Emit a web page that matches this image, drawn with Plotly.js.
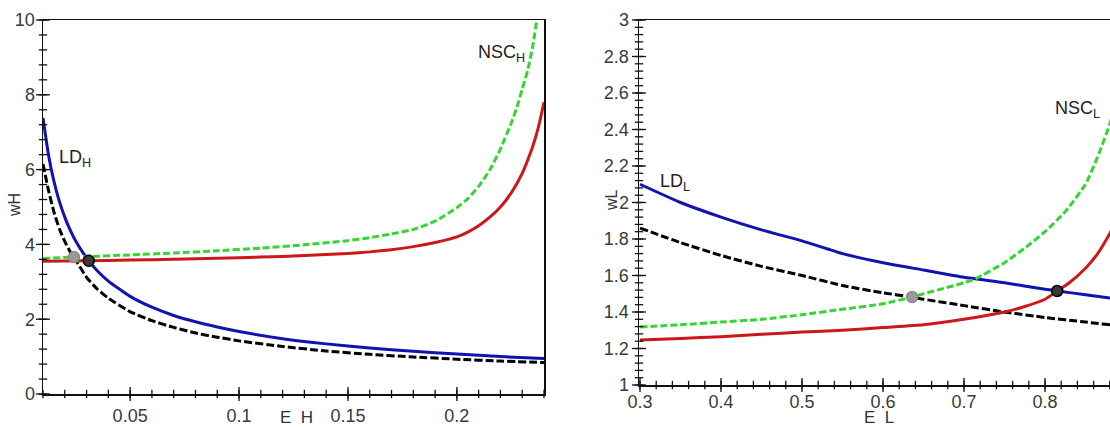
<!DOCTYPE html>
<html>
<head>
<meta charset="utf-8">
<script src="https://cdn.plot.ly/plotly-3.0.1.min.js"></script>
<style>
html,body{margin:0;padding:0;overflow:hidden;background:#fff;}
#chart{width:1180px;height:427px;}
</style>
</head>
<body>
<div id="chart"></div>
<script>
// ---- Left panel (high type) ----
const eH = [0.01, 0.0125, 0.015, 0.0175, 0.02, 0.0225, 0.025, 0.03, 0.035, 0.04, 0.05, 0.06, 0.07, 0.08, 0.09, 0.1, 0.12, 0.14, 0.16, 0.18, 0.2, 0.22, 0.24];
const ldH_blue = [7.38, 6.40, 5.69, 5.15, 4.73, 4.38, 4.09, 3.64, 3.29, 3.02, 2.61, 2.32, 2.10, 1.93, 1.79, 1.67, 1.48, 1.34, 1.23, 1.14, 1.07, 1.00, 0.95];
const ldH_black = [6.15, 5.45, 4.87, 4.42, 4.08, 3.80, 3.58, 3.12, 2.80, 2.56, 2.20, 1.96, 1.78, 1.63, 1.52, 1.42, 1.27, 1.15, 1.06, 0.99, 0.93, 0.88, 0.84];

const eH_nsc_red = [0.01, 0.03, 0.05, 0.07, 0.09, 0.11, 0.13, 0.15, 0.16, 0.17, 0.18, 0.19, 0.2, 0.205, 0.21, 0.215, 0.22, 0.225, 0.23, 0.2325, 0.235, 0.2375, 0.24];
const nscH_red = [3.55, 3.56, 3.58, 3.60, 3.63, 3.66, 3.70, 3.76, 3.80, 3.86, 3.94, 4.05, 4.20, 4.33, 4.50, 4.72, 5.00, 5.38, 5.90, 6.25, 6.65, 7.15, 7.80];
const eH_nsc_green = [0.01, 0.0242, 0.03, 0.05, 0.07, 0.09, 0.11, 0.13, 0.15, 0.16, 0.17, 0.18, 0.19, 0.2, 0.205, 0.21, 0.215, 0.22, 0.225, 0.2275, 0.23, 0.2325, 0.235, 0.2367];
const nscH_green = [3.62, 3.66, 3.67, 3.72, 3.77, 3.83, 3.90, 3.99, 4.10, 4.18, 4.28, 4.40, 4.62, 4.98, 5.22, 5.55, 5.98, 6.55, 7.25, 7.65, 8.15, 8.65, 9.35, 10.0];

const eqH_gray = {x: [0.0242], y: [3.66]};
const eqH_black = {x: [0.031], y: [3.56]};

// ---- Right panel (low type) ----
const eL = [0.3, 0.35, 0.4, 0.45, 0.5, 0.55, 0.6, 0.65, 0.7, 0.75, 0.8, 0.815, 0.85, 0.9, 0.95];
const ldL_blue = [2.10, 2.00, 1.92, 1.85, 1.79, 1.72, 1.67, 1.63, 1.59, 1.56, 1.525, 1.515, 1.495, 1.465, 1.44];
const eL_black = [0.3, 0.35, 0.4, 0.45, 0.5, 0.55, 0.6, 0.636, 0.65, 0.7, 0.75, 0.8, 0.85, 0.9, 0.95];
const ldL_black = [1.86, 1.78, 1.71, 1.65, 1.60, 1.545, 1.505, 1.482, 1.47, 1.435, 1.40, 1.37, 1.345, 1.32, 1.30];

const eL_green = [0.3, 0.35, 0.4, 0.45, 0.5, 0.55, 0.6, 0.636, 0.65, 0.7, 0.716, 0.75, 0.775, 0.8, 0.825, 0.85, 0.865, 0.88, 0.89, 0.9, 0.91];
const nscL_green = [1.318, 1.33, 1.345, 1.36, 1.385, 1.415, 1.445, 1.482, 1.50, 1.56, 1.586, 1.67, 1.75, 1.84, 1.95, 2.10, 2.25, 2.43, 2.58, 2.75, 3.0];
const eL_red = [0.3, 0.35, 0.4, 0.45, 0.5, 0.55, 0.6, 0.65, 0.7, 0.75, 0.775, 0.8, 0.815, 0.83, 0.85, 0.865, 0.88, 0.9, 0.92];
const nscL_red = [1.247, 1.255, 1.265, 1.278, 1.29, 1.30, 1.315, 1.33, 1.36, 1.40, 1.43, 1.47, 1.515, 1.56, 1.64, 1.72, 1.83, 2.00, 2.20];

const eqL_gray = {x: [0.636], y: [1.482]};
const eqL_black = {x: [0.815], y: [1.515]};

// ---- axis ranges and tick spacing ----
const rxL = [0.01, 0.24], ryL = [0, 10], rxR = [0.29877, 0.9543], ryR = [1, 3];
const tickStepH = {x: 0.05, xm: 0.01, y: 2, ym: 0.4};
const tickStepL = {x: 0.1, xm: 0.02, y: 0.2, ym: 0.04};

function steps(range, step) {
  const out = [];
  const k0 = Math.ceil(range[0] / step - 1e-9), k1 = Math.floor(range[1] / step + 1e-9);
  for (let k = k0; k <= k1; k++) out.push(+(k * step).toFixed(6));
  return out;
}

// ---- styling ----
const W = 1180, H = 427;
const BLUE = 'rgb(18,18,178)', RED = 'rgb(204,24,24)', GREEN = 'rgb(52,214,52)', BLACK = '#000';
const LW = 3;

function line(x, y, color, dash, xa, ya) {
  return {x: x, y: y, type: 'scatter', mode: 'lines', xaxis: xa, yaxis: ya,
    line: {color: color, width: LW, dash: dash || 'solid', shape: 'spline', smoothing: 0.5},
    hoverinfo: 'skip', showlegend: false};
}
function dot(p, fill, edge, xa, ya) {
  return {x: p.x, y: p.y, type: 'scatter', mode: 'markers', xaxis: xa, yaxis: ya,
    marker: {size: 11, color: fill, line: {color: edge, width: 1.5}},
    hoverinfo: 'skip', showlegend: false};
}
// tick marks drawn as line markers sitting on the axis lines
function tickMarks(vals, fixed, isX, size, xa, ya) {
  const other = vals.map(() => fixed);
  return {x: isX ? vals : other, y: isX ? other : vals, type: 'scatter', mode: 'markers',
    xaxis: xa, yaxis: ya, cliponaxis: false,
    marker: {symbol: isX ? 'line-ns-open' : 'line-ew-open', size: size, color: '#111',
      line: {color: '#111', width: 1.3}},
    hoverinfo: 'skip', showlegend: false};
}

const traces = [
  line(eH, ldH_blue, BLUE, 'solid', 'x', 'y'),
  line(eH, ldH_black, BLACK, '8px,3px', 'x', 'y'),
  line(eH_nsc_red, nscH_red, RED, 'solid', 'x', 'y'),
  line(eH_nsc_green, nscH_green, GREEN, '7px,3px', 'x', 'y'),
  dot(eqH_gray, '#9a9a9a', '#8a8a8a', 'x', 'y'),
  dot(eqH_black, '#3a3a3a', '#000', 'x', 'y'),
  line(eL, ldL_blue, BLUE, 'solid', 'x2', 'y2'),
  line(eL_black, ldL_black, BLACK, '8px,3px', 'x2', 'y2'),
  line(eL_red, nscL_red, RED, 'solid', 'x2', 'y2'),
  line(eL_green, nscL_green, GREEN, '7px,3px', 'x2', 'y2'),
  dot(eqL_gray, '#9a9a9a', '#8a8a8a', 'x2', 'y2'),
  dot(eqL_black, '#3a3a3a', '#000', 'x2', 'y2'),
  // ticks, left panel
  tickMarks(steps(rxL, tickStepH.x), ryL[0], true, 10, 'x', 'y'),
  tickMarks(steps(rxL, tickStepH.xm), ryL[0], true, 6, 'x', 'y'),
  tickMarks(steps(ryL, tickStepH.y), rxL[0], false, 10, 'x', 'y'),
  tickMarks(steps(ryL, tickStepH.ym), rxL[0], false, 6, 'x', 'y'),
  // ticks, right panel
  tickMarks(steps(rxR, tickStepL.x), ryR[0], true, 10, 'x2', 'y2'),
  tickMarks(steps(rxR, tickStepL.xm), ryR[0], true, 6, 'x2', 'y2'),
  tickMarks(steps(ryR, tickStepL.y), rxR[0], false, 10, 'x2', 'y2'),
  tickMarks(steps(ryR, tickStepL.ym), rxR[0], false, 6, 'x2', 'y2')
];

const tickFont = {family: '"Liberation Sans Narrow", "Liberation Sans", Arial, sans-serif', size: 18, color: '#3a3a3a'};
const labFont = {family: '"Liberation Sans", Arial, sans-serif', size: 18, color: '#222'};

function axisBase(dt, len) {
  return {showline: true, linecolor: '#111', linewidth: 1.5, mirror: true,
    ticks: 'outside', ticklen: len, tickwidth: 1, tickcolor: 'rgba(0,0,0,0)',
    tickmode: 'linear', tick0: 0, dtick: dt,
    showgrid: false, zeroline: false, tickfont: tickFont, fixedrange: true};
}

const px = v => v / W, py = v => 1 - v / H;

const layout = {
  width: W, height: H,
  margin: {l: 0, r: 0, t: 0, b: 0},
  paper_bgcolor: '#fff', plot_bgcolor: '#fff',
  showlegend: false,
  xaxis: Object.assign(axisBase(tickStepH.x, 5), {domain: [px(43), px(544)], range: rxL, anchor: 'y'}),
  yaxis: Object.assign(axisBase(tickStepH.y, 3), {domain: [py(394), py(20)], range: ryL, anchor: 'x'}),
  xaxis2: Object.assign(axisBase(tickStepL.x, 0), {domain: [px(639), px(1170)], range: rxR, anchor: 'y2'}),
  yaxis2: Object.assign(axisBase(tickStepL.y, 5), {domain: [py(385), py(20)], range: ryR, anchor: 'x2'}),
  annotations: [
    {xref: 'x', yref: 'y', x: 0.0164, y: 6.3, xanchor: 'left', yanchor: 'middle', showarrow: false,
      text: 'LD<sub>H</sub>', font: labFont},
    {xref: 'x', yref: 'y', x: 0.2205, y: 9.1, xanchor: 'center', yanchor: 'middle', showarrow: false,
      text: 'NSC<sub>H</sub>', font: labFont},
    {xref: 'x2', yref: 'y2', x: 0.322, y: 2.11, xanchor: 'left', yanchor: 'middle', showarrow: false,
      text: 'LD<sub>L</sub>', font: labFont},
    {xref: 'x2', yref: 'y2', x: 0.84, y: 2.51, xanchor: 'center', yanchor: 'middle', showarrow: false,
      text: 'NSC<sub>L</sub>', font: labFont},
    {xref: 'paper', yref: 'paper', x: px(14), y: py(205), xanchor: 'center', yanchor: 'middle', showarrow: false,
      text: 'wH', textangle: -90, font: {family: labFont.family, size: 16, color: '#333'}},
    {xref: 'paper', yref: 'paper', x: px(296), y: py(417), xanchor: 'center', yanchor: 'middle', showarrow: false,
      text: 'E\u00a0\u00a0H', font: {family: labFont.family, size: 17, color: '#333'}},
    {xref: 'paper', yref: 'paper', x: px(611), y: py(200), xanchor: 'center', yanchor: 'middle', showarrow: false,
      text: 'wL', textangle: -90, font: {family: labFont.family, size: 16, color: '#333'}},
    {xref: 'paper', yref: 'paper', x: px(879), y: py(417), xanchor: 'center', yanchor: 'middle', showarrow: false,
      text: 'E\u00a0\u00a0L', font: {family: labFont.family, size: 17, color: '#333'}}
  ]
};

Plotly.newPlot('chart', traces, layout, {displayModeBar: false, staticPlot: true});
</script>
</body>
</html>
